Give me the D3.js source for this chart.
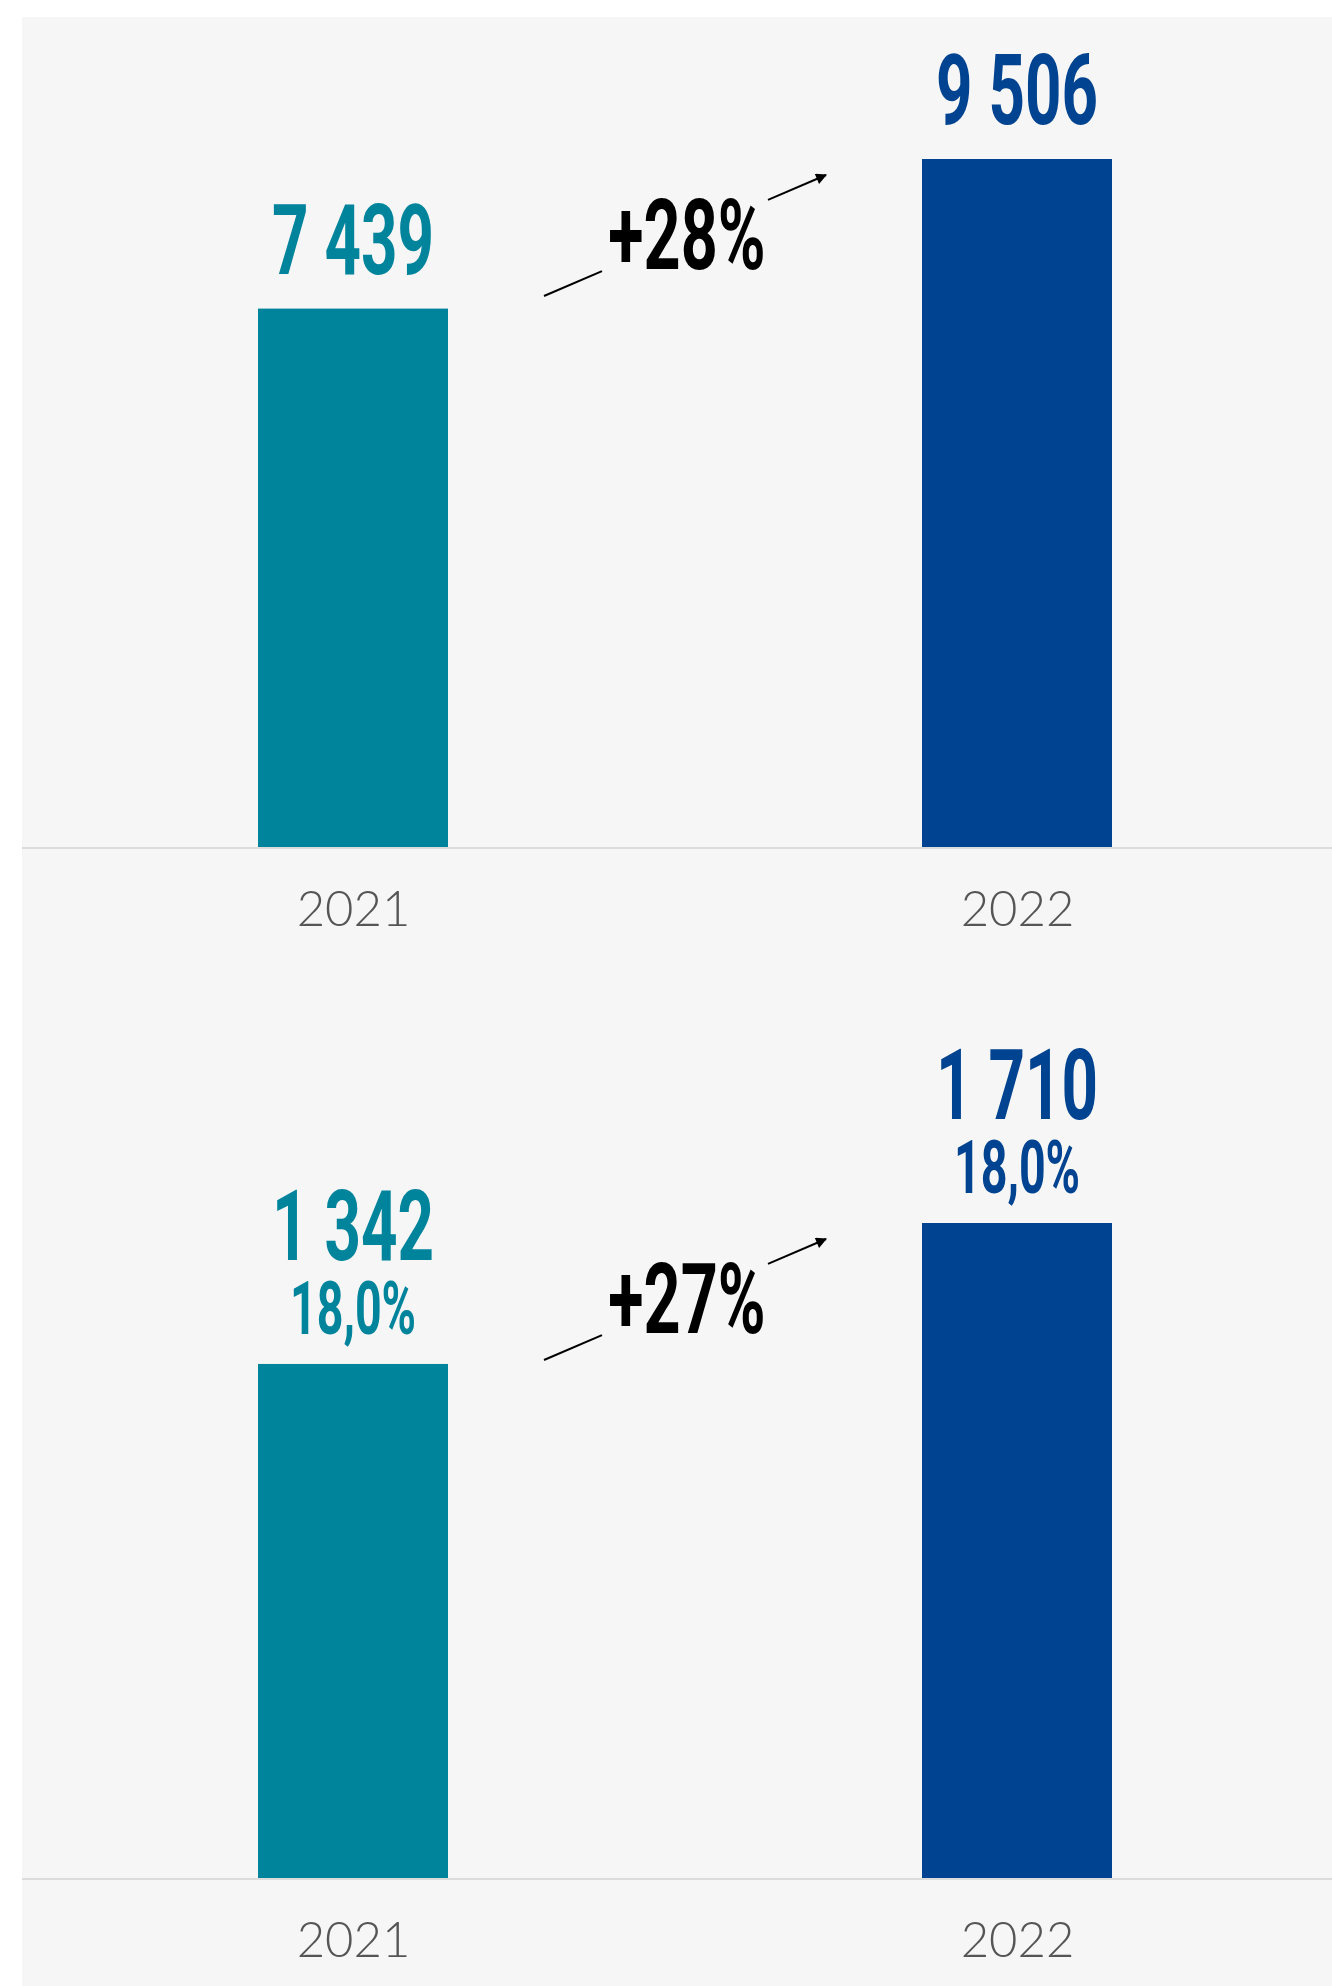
<!DOCTYPE html>
<html>
<head>
<meta charset="utf-8">
<script src="https://cdn.jsdelivr.net/npm/d3@7"></script>
<style>
  html, body { margin: 0; padding: 0; background: #fff; }
</style>
</head>
<body>
<script>
// data
const years = ["2021", "2022"];
const revenue = [7439, 9506];
const ebitda = [1342, 1710];
const ebitdaMargin = [18.0, 18.0];
const growth = ["+28%", "+27%"];

const colors = ["#00849c", "#004390"];
const W = 1332, H = 1986;

const svg = d3.select("body").append("svg")
  .attr("width", W).attr("height", H);

svg.append("rect").attr("width", W).attr("height", H).attr("fill", "#fff");
svg.append("rect")
  .attr("x", 22).attr("y", 17)
  .attr("width", W - 22).attr("height", H - 17)
  .attr("fill", "#f6f6f6");

svg.append("defs").append("marker")
  .attr("id", "arrow")
  .attr("viewBox", "0 0 10 10")
  .attr("refX", 9).attr("refY", 5)
  .attr("markerUnits", "userSpaceOnUse")
  .attr("markerWidth", 15).attr("markerHeight", 11)
  .attr("orient", "auto")
  .append("path").attr("d", "M0,0L10,5L0,10z").attr("fill", "#000");

const x = d3.scalePoint().domain(years).range([353, 1017]);
const barW = 190;

const fmtPct = v => d3.format(".1f")(v).replace(".", ",") + "%";

function bigText(g, px, py, txt, size, fill, sx) {
  g.append("text")
    .attr("transform", `translate(${px},${py}) scale(${sx},1)`)
    .attr("text-anchor", "middle")
    .attr("font-family", "Roboto, sans-serif")
    .attr("font-weight", 700)
    .attr("font-size", size)
    .attr("fill", fill)
    .text(txt);
}

const panels = [
  { values: revenue, pct: null, change: growth[0], baseline: 847, top: 159 },
  { values: ebitda, pct: ebitdaMargin, change: growth[1], baseline: 1878, top: 1223 }
];

panels.forEach(p => {
  const g = svg.append("g");
  const y = d3.scaleLinear()
    .domain([0, d3.max(p.values)])
    .range([p.baseline, p.top]);

  g.selectAll("rect.bar")
    .data(p.values)
    .join("rect")
    .attr("class", "bar")
    .attr("x", (d, i) => x(years[i]) - barW / 2)
    .attr("y", d => y(d))
    .attr("width", barW)
    .attr("height", d => y(0) - y(d))
    .attr("fill", (d, i) => colors[i]);

  // base line
  g.append("line")
    .attr("x1", 22).attr("x2", W)
    .attr("y1", p.baseline + 1).attr("y2", p.baseline + 1)
    .attr("stroke", "#dcdcdc").attr("stroke-width", 2);

  // year labels
  const ax = g.append("g")
    .attr("transform", `translate(0,${p.baseline})`)
    .call(d3.axisBottom(x).tickSize(0).tickSizeOuter(0));
  ax.select(".domain").remove();
  ax.selectAll("text")
    .attr("y", 79).attr("dy", null)
    .attr("font-family", "Lato, sans-serif")
    .attr("font-weight", 300)
    .attr("font-size", 49)
    .attr("fill", "#555");

  // value labels
  p.values.forEach((v, i) => {
    const cx = x(years[i]);
    const off = p.pct ? 104 : 35;
    bigText(g, cx, y(v) - off, d3.format(",")(v).replace(",", " "), 98, colors[i], 0.65);
    if (p.pct) bigText(g, cx, y(v) - 30, fmtPct(p.pct[i]), 74, colors[i], 0.63);
  });

  // growth arrow
  const tipY = y(p.values[1]) + 16;
  const x0 = x(years[0]) + 191, x1 = x(years[1]) - 191;
  const slope = -121 / (x1 - x0);
  const gap0 = x0 + 58, gap1 = x1 - 58;
  g.append("line")
    .attr("x1", x0).attr("y1", tipY + 121)
    .attr("x2", gap0).attr("y2", tipY + 121 + slope * (gap0 - x0))
    .attr("stroke", "#000").attr("stroke-width", 2);
  g.append("line")
    .attr("x1", gap1).attr("y1", tipY + 121 + slope * (gap1 - x0))
    .attr("x2", x1).attr("y2", tipY)
    .attr("stroke", "#000").attr("stroke-width", 2)
    .attr("marker-end", "url(#arrow)");
  bigText(g, (x0 + x1) / 2 + 2, y(p.values[1]) + 110, p.change, 98, "#000", 0.66);
});
</script>
</body>
</html>
